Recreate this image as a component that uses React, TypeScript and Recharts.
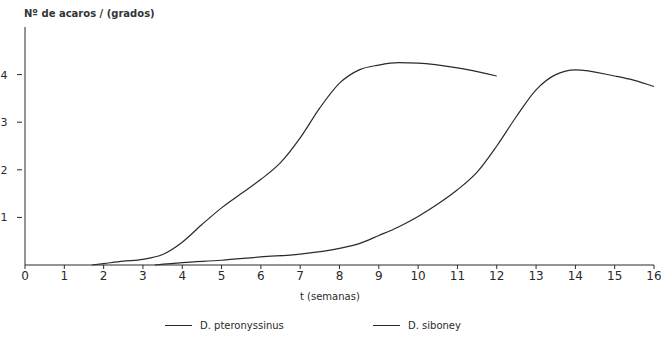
import { LineChart, Line, XAxis, YAxis, Legend } from "recharts";

const weeksPter = [1.7, 2, 2.5, 3, 3.5, 4, 4.5, 5, 5.5, 6, 6.5, 7, 7.5, 8, 8.5, 9, 9.5, 10, 11, 12];
const valuesPter = [0, 0.03, 0.08, 0.12, 0.22, 0.48, 0.85, 1.2, 1.5, 1.8, 2.15, 2.67, 3.3, 3.82, 4.1, 4.2, 4.25, 4.24, 4.14, 3.97];

const weeksSib = [3.3, 4, 5, 6, 7, 8, 8.5, 9, 9.5, 10, 10.5, 11, 11.5, 12, 12.5, 13, 13.5, 14, 15, 15.5, 16];
const valuesSib = [0, 0.05, 0.1, 0.17, 0.23, 0.35, 0.45, 0.62, 0.8, 1.02, 1.28, 1.58, 1.95, 2.5, 3.12, 3.68, 4.0, 4.1, 3.97, 3.88, 3.75];

const xTicks = [0, 1, 2, 3, 4, 5, 6, 7, 8, 9, 10, 11, 12, 13, 14, 15, 16];
const yTicks = [1, 2, 3, 4];

const seriesNames = ["D. pteronyssinus", "D. siboney"];

const INK = "#2a2a2a";
const FONT = "'DejaVu Sans', sans-serif";

const pterData = weeksPter.map((w, i) => ({ t: w, v: valuesPter[i] }));
const sibData = weeksSib.map((w, i) => ({ t: w, v: valuesSib[i] }));

function YTick(props: any) {
  const { x, y, payload } = props;
  return (
    <g>
      <line x1={x} y1={y} x2={x + 5} y2={y} stroke={INK} strokeWidth={1} />
      <text x={x - 13} y={y + 4} textAnchor="middle" fontSize={11} fontFamily={FONT} fill={INK}>
        {payload.value}
      </text>
    </g>
  );
}

function LegendContent(props: any) {
  const items = props.payload || [];
  const pos = [165, 373];
  return (
    <div style={{ position: "relative", height: 20, width: 661 }}>
      {items.map((item: any, i: number) => (
        <div
          key={item.value}
          style={{
            position: "absolute",
            left: pos[i],
            top: 0,
            display: "flex",
            alignItems: "center",
            fontFamily: FONT,
            fontSize: 10,
            color: INK,
          }}
        >
          <span style={{ display: "inline-block", width: 27, height: 0, borderTop: `1px solid ${INK}`, marginRight: 8 }} />
          {item.value}
        </div>
      ))}
    </div>
  );
}

export default function App() {
  return (
    <div style={{ position: "fixed", left: 0, top: 0, width: 661, height: 337, background: "#fff" }}>
      <div
        style={{
          position: "absolute",
          left: 24,
          top: 8,
          fontFamily: FONT,
          fontSize: 10,
          fontWeight: 600,
          color: "#333",
          whiteSpace: "nowrap",
        }}
      >
        Nº de acaros / (grados)
      </div>
      <div
        style={{
          position: "absolute",
          left: 300,
          top: 291,
          fontFamily: FONT,
          fontSize: 10,
          color: INK,
          whiteSpace: "nowrap",
        }}
      >
        t (semanas)
      </div>
      <LineChart width={661} height={337} margin={{ top: 27, right: 7, left: 0, bottom: 32 }}>
        <XAxis
          dataKey="t"
          type="number"
          domain={[0, 16]}
          ticks={xTicks}
          allowDuplicatedCategory={false}
          stroke={INK}
          tickSize={4}
          height={20}
          tick={{ fontSize: 12, fontFamily: FONT, fill: INK }}
          interval={0}
        />
        <YAxis
          type="number"
          domain={[0, 5]}
          ticks={yTicks}
          width={25}
          stroke={INK}
          tickLine={false}
          tick={<YTick />}
        />
        <Legend
          verticalAlign="bottom"
          align="left"
          wrapperStyle={{ left: 0, bottom: -3 }}
          content={<LegendContent />}
        />
        <Line
          data={pterData}
          dataKey="v"
          name={seriesNames[0]}
          type="monotone"
          stroke={INK}
          strokeWidth={1.2}
          dot={false}
          isAnimationActive={false}
        />
        <Line
          data={sibData}
          dataKey="v"
          name={seriesNames[1]}
          type="monotone"
          stroke={INK}
          strokeWidth={1.2}
          dot={false}
          isAnimationActive={false}
        />
      </LineChart>
    </div>
  );
}
